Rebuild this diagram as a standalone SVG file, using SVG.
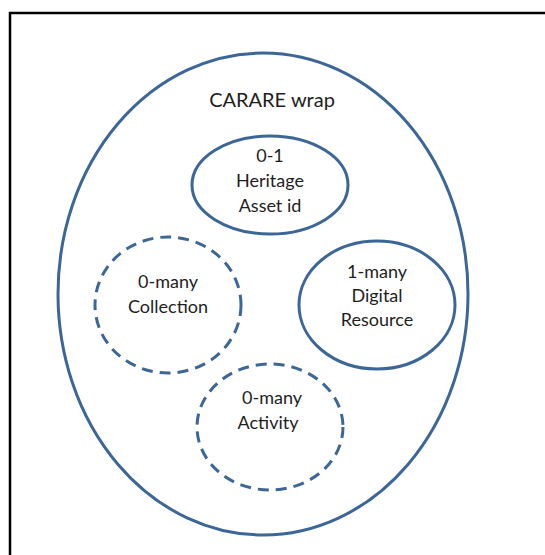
<svg xmlns="http://www.w3.org/2000/svg" width="545" height="555" viewBox="0 0 545 555">
  <style>
    .frame { fill: none; stroke: #000; stroke-width: 2.5; }
    .solid { fill: #fff; stroke: #3c6696; stroke-width: 3; }
    .dashed { fill: #fff; stroke: #3c6696; stroke-width: 3; stroke-dasharray: 11 7; }
    text { font-family: Lato, "Open Sans", sans-serif; font-size: 18px; fill: #1e1e1e; text-anchor: middle; }
    .title { font-size: 20px; }
  </style>
  <rect width="545" height="555" fill="#fff"/>
  <rect class="frame" x="10" y="13" width="560" height="580"/>
  <g id="wrap">
    <ellipse class="solid" cx="263" cy="294" rx="205" ry="241"/>
    <text class="title" x="272" y="107">CARARE wrap</text>
  </g>
  <g id="heritage-asset">
    <ellipse class="solid" cx="270" cy="185" rx="78" ry="49"/>
    <text x="270" y="162">0-1</text>
    <text x="270" y="187">Heritage</text>
    <text x="270" y="212">Asset id</text>
  </g>
  <g id="collection">
    <ellipse class="dashed" cx="168" cy="305" rx="73" ry="68"/>
    <text x="168" y="288">0-many</text>
    <text x="168" y="313">Collection</text>
  </g>
  <g id="digital-resource">
    <ellipse class="solid" cx="377" cy="305" rx="78" ry="64"/>
    <text x="377" y="278">1-many</text>
    <text x="377" y="302">Digital</text>
    <text x="377" y="326">Resource</text>
  </g>
  <g id="activity">
    <ellipse class="dashed" cx="270" cy="427" rx="73" ry="63"/>
    <text x="272" y="404">0-many</text>
    <text x="268" y="429">Activity</text>
  </g>
  <g id="connectors"/>
</svg>
